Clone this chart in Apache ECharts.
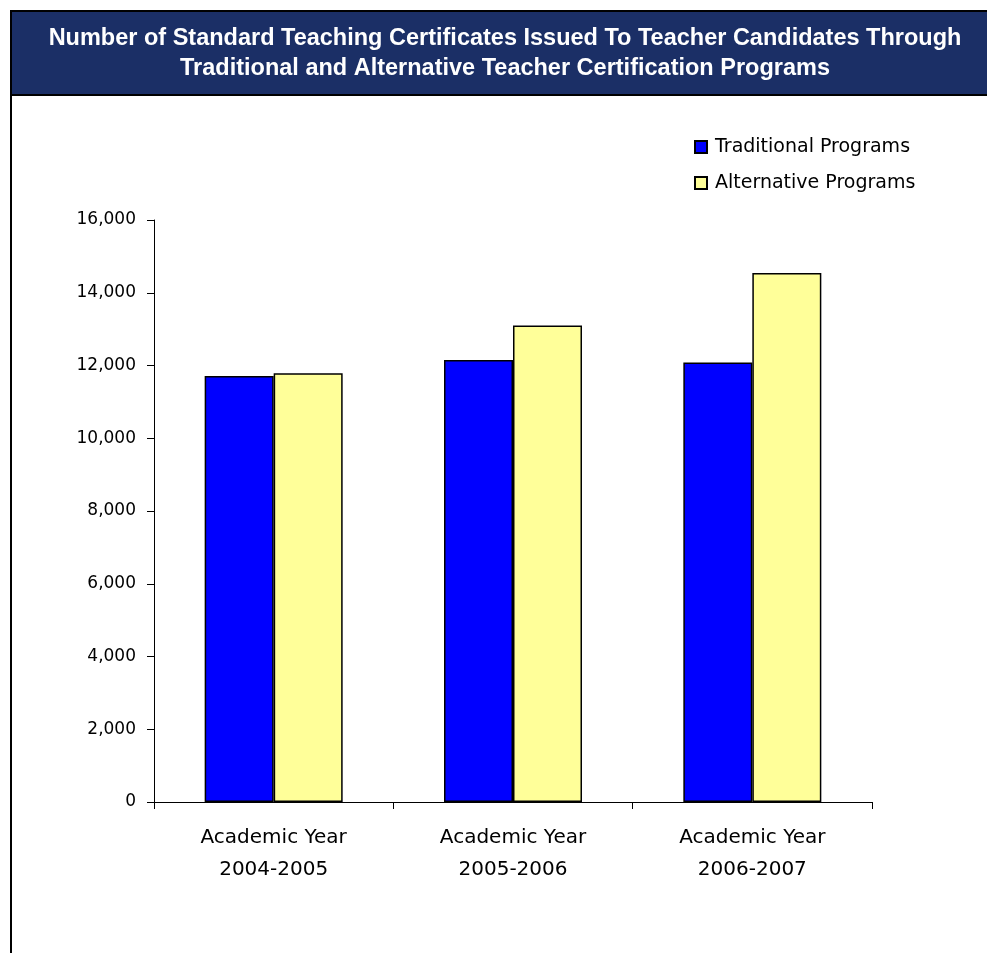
<!DOCTYPE html>
<html>
<head>
<meta charset="utf-8">
<script src="https://cdn.jsdelivr.net/npm/echarts@6/dist/echarts.min.js"></script>
<style>
html,body{margin:0;padding:0;background:#fff;}
#chart{width:987px;height:953px;}
</style>
</head>
<body>
<div id="chart"></div>
<script>
var titleText = 'Number of Standard Teaching Certificates Issued To Teacher Candidates Through\nTraditional and Alternative Teacher Certification Programs';
var categories = ['Academic Year\n2004-2005', 'Academic Year\n2005-2006', 'Academic Year\n2006-2007'];
var traditional = [11710, 12150, 12080];
var alternative = [11785, 13100, 14540];
var seriesNames = ['Traditional Programs', 'Alternative Programs'];

var FONT = 'DejaVu Sans';
var chart = echarts.init(document.getElementById('chart'), null, {renderer: 'canvas'});
chart.setOption({
  animation: false,
  backgroundColor: '#ffffff',
  graphic: [
    {type: 'rect', shape: {x: 11, y: 11, width: 1000, height: 84},
     style: {fill: '#1b2f66', stroke: '#000', lineWidth: 2}},
    {type: 'line', shape: {x1: 11, y1: 95, x2: 11, y2: 953},
     style: {stroke: '#000', lineWidth: 2}},
    {type: 'text', x: 505, y: 24,
     style: {text: titleText, fill: '#ffffff', font: 'bold 23.5px "Liberation Sans"',
             textAlign: 'center', textVerticalAlign: 'top', lineHeight: 30}}
  ],
  legend: {
    orient: 'vertical',
    left: 694, top: 137, padding: 0,
    itemWidth: 12, itemHeight: 12, itemGap: 16,
    icon: 'rect',
    textStyle: {fontFamily: FONT, fontSize: 19, color: '#000', lineHeight: 20, padding: [0, 0, 0, 3]},
    data: seriesNames
  },
  grid: {left: 154, right: 115, top: 220, bottom: 151, containLabel: false},
  xAxis: {
    type: 'category',
    data: categories,
    axisLine: {lineStyle: {color: '#000', width: 1}},
    axisTick: {show: true, length: 7, lineStyle: {color: '#000'}},
    axisLabel: {fontFamily: FONT, fontSize: 20, color: '#000', lineHeight: 32, margin: 20, interval: 0}
  },
  yAxis: {
    type: 'value',
    min: 0, max: 16000, interval: 2000,
    axisLine: {show: true, lineStyle: {color: '#000', width: 1}},
    axisTick: {show: true, length: 7, lineStyle: {color: '#000'}},
    splitLine: {show: false},
    axisLabel: {fontFamily: FONT, fontSize: 17, color: '#000', margin: 18,
      formatter: function (v) { return v.toLocaleString('en-US'); }}
  },
  series: [
    {name: seriesNames[0], type: 'bar', data: traditional, barWidth: 69, barGap: '0%',
     itemStyle: {color: '#0000ff', borderColor: '#000', borderWidth: 1.5}},
    {name: seriesNames[1], type: 'bar', data: alternative, barWidth: 69, barGap: '0%',
     itemStyle: {color: '#ffff99', borderColor: '#000', borderWidth: 1.5}}
  ]
});
</script>
</body>
</html>
